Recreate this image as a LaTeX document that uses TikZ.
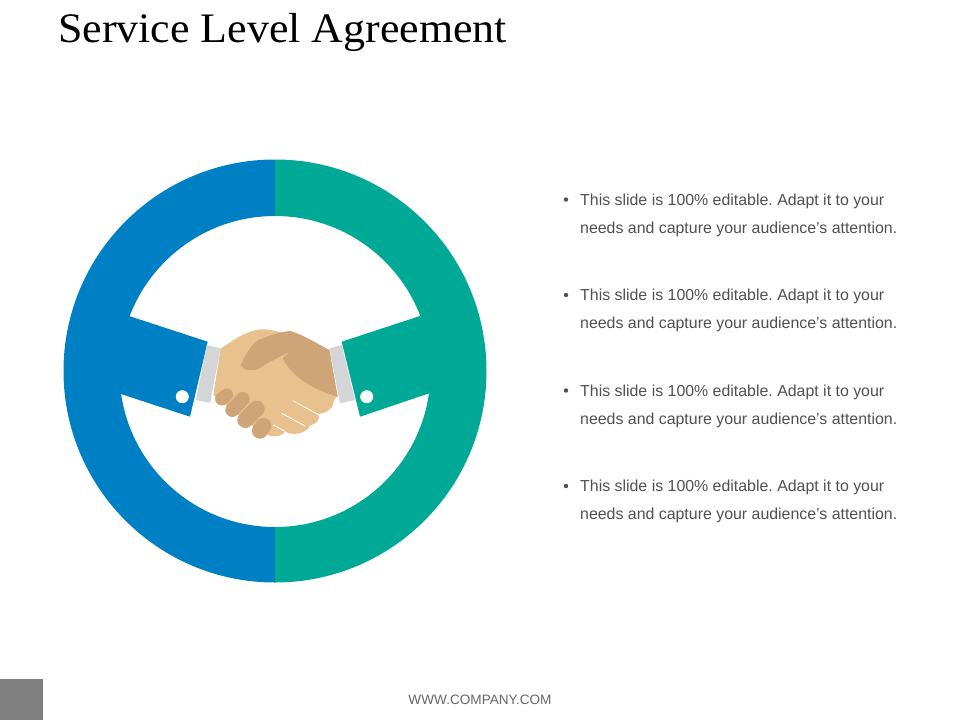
\documentclass[tikz,border=0pt]{standalone}
\usepackage{fontspec}
\setmainfont{Liberation Sans}
\newfontfamily\titlefont{Liberation Serif}
\frenchspacing
\definecolor{ringblue}{HTML}{0080C4}
\definecolor{ringteal}{HTML}{00A896}
\definecolor{cuffgray}{HTML}{D4D5D7}
\definecolor{handlight}{HTML}{E8C18E}
\definecolor{handdark}{HTML}{CFA578}
\definecolor{bodygray}{HTML}{505050}
\tikzset{
  slidetitle/.style={anchor=base west, inner sep=0, text=black, xscale=1.046, font=\titlefont\fontsize{42}{42}\selectfont},
  pointtext/.style={anchor=north west, inner sep=0, align=left, text=bodygray, font=\fontsize{15.9}{28}\selectfont},
  pointdot/.style={circle, inner sep=0, minimum size=4.4pt, fill=bodygray},
  cuffbutton/.style={circle, inner sep=0, minimum size=13pt, fill=white},
  fingerline/.style={handdark, line cap=round},
  creaseline/.style={white, line width=0.8pt},
  footertext/.style={anchor=base, inner sep=0, text=black!60, font=\fontsize{13.6}{14}\selectfont}
}
\begin{document}
\begin{tikzpicture}[x=1pt,y=-1pt]
\useasboundingbox (0,0) rectangle (960,720);
% ring halves and sleeves
\fill[ringblue] (275,159.5) arc[start angle=-90,end angle=-270,radius=211.5] -- (275,527) arc[start angle=90,end angle=270,radius=155.5] -- cycle;
\fill[ringteal] (275,159.5) arc[start angle=-90,end angle=90,radius=211.5] -- (275,527) arc[start angle=90,end angle=-90,radius=155.5] -- cycle;
\fill[ringblue] (129,316) -- (207.7,341.7) -- (190,416.7) -- (121,394) -- (100,370) -- cycle;
\fill[ringteal] (420,316) -- (341.7,341.7) -- (360,416.7) -- (430,393) -- (450,370) -- cycle;
\fill[cuffgray] (206.7,345) -- (220.7,348.3) -- (210,403) -- (196,400) -- cycle;
\fill[cuffgray] (329.3,348.3) -- (341.7,345) -- (355,400) -- (340,403.3) -- cycle;
\node[cuffbutton] (btnleft) at (182.3,396.7) {};
\node[cuffbutton] (btnright) at (366.7,396.7) {};
% handshake
\begin{scope}[shift={(170,300)},scale=0.3333]
\fill[handlight] (152,146) .. controls (190,120) and (230,92) .. (270,88) .. controls (290,87) and (310,90) .. (330,97) -- (478,150) -- (503,290) .. controls (490,292) and (492,315) .. (485,322) .. controls (475,335) and (460,340) .. (445,342) .. controls (452,355) and (440,372) .. (420,377) .. controls (415,392) and (390,403) .. (370,402) .. controls (360,402) and (350,398) .. (345,394) .. controls (342,405) and (320,412) .. (300,408) -- (250,380) -- (135,290) -- (130,285) -- cycle;
\fill[handdark] (212,195) .. controls (222,175) and (240,135) .. (265,120) .. controls (295,108) and (330,95) .. (362,93) .. controls (400,105) and (440,130) .. (478,150) -- (503,290) .. controls (450,275) and (370,240) .. (338,175) -- (362,153) .. controls (330,172) and (295,185) .. (265,207) .. controls (245,214) and (220,214) .. (212,195) -- cycle;
\draw[fingerline,line width=13pt] (155,297) -- (170,285);
\draw[fingerline,line width=14pt] (187,330) -- (218,297);
\draw[fingerline,line width=16pt] (226,360) -- (260,326);
\draw[fingerline,line width=16pt] (270,392) -- (280,378);
\draw[creaseline] (370,303) -- (448,345);
\draw[creaseline] (335,340) -- (405,378);
\draw[creaseline] (310,375) -- (345,394);
\end{scope}
% title
\node[slidetitle] (title) at (58,42) {Service Level Agreement};
% bullet points
\node[pointdot] (dota) at (566,199.5) {};
\node[pointtext] (texta) at (580,194) {This slide is 100\% editable. Adapt it to your\\needs and capture your audience's attention.};
\node[pointdot] (dotb) at (566,295) {};
\node[pointtext] (textb) at (580,289) {This slide is 100\% editable. Adapt it to your\\needs and capture your audience's attention.};
\node[pointdot] (dotc) at (566,390.5) {};
\node[pointtext] (textc) at (580,385) {This slide is 100\% editable. Adapt it to your\\needs and capture your audience's attention.};
\node[pointdot] (dotd) at (566,486) {};
\node[pointtext] (textd) at (580,480) {This slide is 100\% editable. Adapt it to your\\needs and capture your audience's attention.};
% footer
\fill[black!50] (0,679) rectangle (43,720);
\node[footertext] (footer) at (480,704) {WWW.COMPANY.COM};
\end{tikzpicture}
\end{document}
